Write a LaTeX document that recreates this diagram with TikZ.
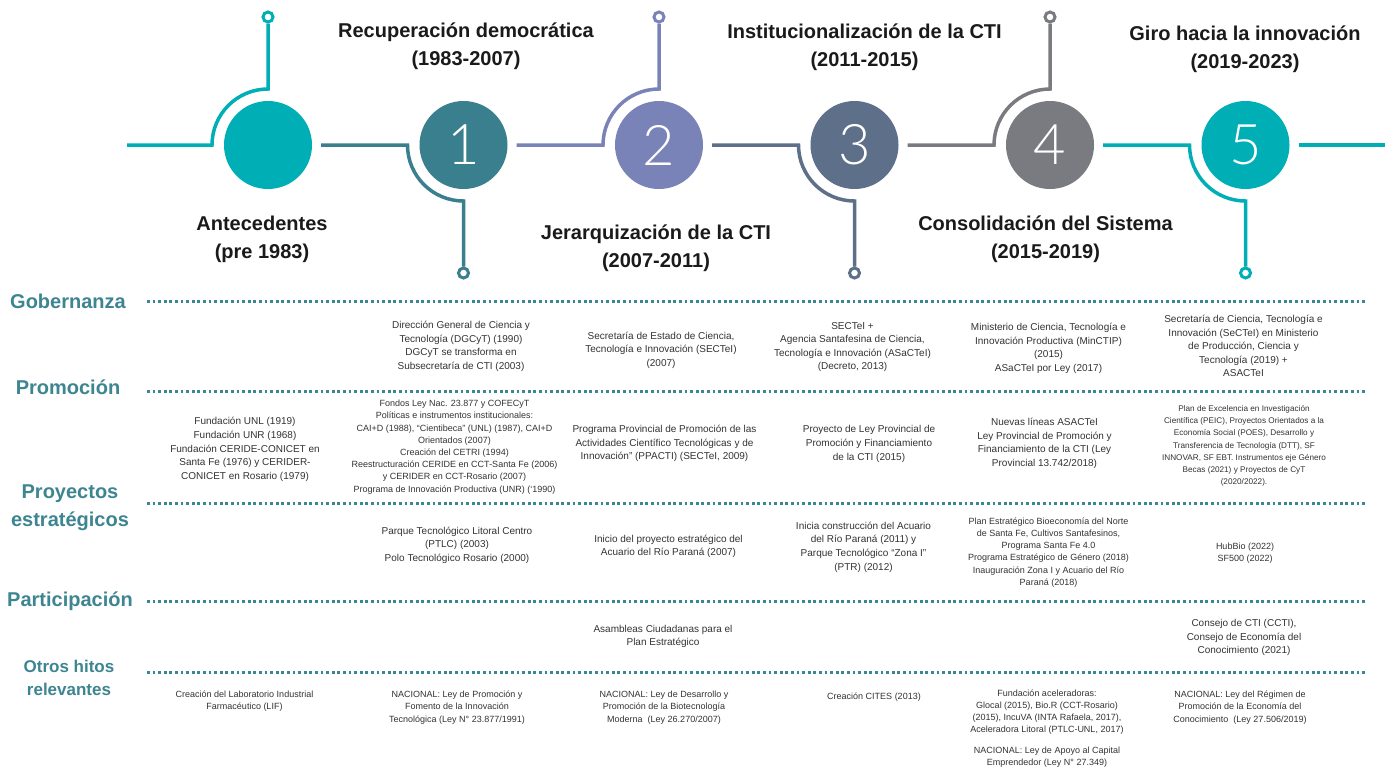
\documentclass[tikz,border=0pt]{standalone}
\usepackage{fontspec}
\setmainfont{Liberation Sans}
\newfontfamily\numfont{Lato Light}
\definecolor{cA}{HTML}{00AEB6}
\definecolor{cB}{HTML}{3A7F8D}
\definecolor{cC}{HTML}{7A83B7}
\definecolor{cD}{HTML}{5D6F89}
\definecolor{cE}{HTML}{797B80}
\definecolor{labcol}{HTML}{3D8591}
\definecolor{dotcol}{HTML}{3A8794}
\definecolor{bodycol}{HTML}{333333}
\definecolor{titcol}{HTML}{1A1A1A}
\tikzset{
  stage/.style={circle, minimum size=88pt, inner sep=0pt, text=white,
    font=\numfont\fontsize{56}{56}\selectfont},
  conn/.style={line width=3.5pt},
  ring/.style={circle, minimum size=10pt, inner sep=0pt, line width=3pt, fill=white},
  titl/.style={align=center, text=titcol, inner sep=0pt, font=\bfseries\fontsize{20}{28}\selectfont},
  catl/.style={align=center, text=labcol, inner sep=0pt, font=\bfseries\fontsize{20}{28}\selectfont},
  catls/.style={align=center, text=labcol, inner sep=0pt, font=\bfseries\fontsize{17}{23}\selectfont},
  dotl/.style={draw=dotcol, line width=3pt, dash pattern=on 2.8pt off 2.8pt},
  txt/.style={align=center, text=bodycol, inner sep=0pt, font=\fontsize{10}{13.6}\selectfont},
  txts/.style={align=center, text=bodycol, inner sep=0pt, font=\fontsize{9}{12.2}\selectfont},
  txtxs/.style={align=center, text=bodycol, inner sep=0pt, font=\fontsize{8.2}{12.2}\selectfont},
}
\begin{document}
\begin{tikzpicture}[x=1pt,y=1pt]
\useasboundingbox[fill=white] (0,0) rectangle (1391,-769);

% stage circles
\node[stage, fill=cA] (c0) at (268,-145) {};
\node[stage, fill=cB] (c1) at (463.5,-145) {1};
\node[stage, fill=cC] (c2) at (659,-145) {2};
\node[stage, fill=cD] (c3) at (854.5,-145) {3};
\node[stage, fill=cE] (c4) at (1050,-145) {4};
\node[stage, fill=cA] (c5) at (1245.5,-145) {5};

% end rings
\node[ring, draw=cA] (r0) at (268,-17) {};
\node[ring, draw=cB] (r1) at (463.5,-273) {};
\node[ring, draw=cC] (r2) at (659,-17) {};
\node[ring, draw=cD] (r3) at (854.5,-273) {};
\node[ring, draw=cE] (r4) at (1050,-17) {};
\node[ring, draw=cA] (r5) at (1245.5,-273) {};

\coordinate (s0) at (127,-145);
\coordinate (e5) at (1385,-145);

% connectors
\draw[conn, cA] (s0) -- ([xshift=-56pt]c0.center) arc[start angle=180, end angle=90, radius=56pt] -- (r0.south);
\draw[conn, cB] ([xshift=9pt]c0.east) -- ([xshift=-56pt]c1.center) arc[start angle=180, end angle=270, radius=56pt] -- (r1.north);
\draw[conn, cC] ([xshift=9pt]c1.east) -- ([xshift=-56pt]c2.center) arc[start angle=180, end angle=90, radius=56pt] -- (r2.south);
\draw[conn, cD] ([xshift=9pt]c2.east) -- ([xshift=-56pt]c3.center) arc[start angle=180, end angle=270, radius=56pt] -- (r3.north);
\draw[conn, cE] ([xshift=9pt]c3.east) -- ([xshift=-56pt]c4.center) arc[start angle=180, end angle=90, radius=56pt] -- (r4.south);
\draw[conn, cA] ([xshift=9pt]c4.east) -- ([xshift=-56pt]c5.center) arc[start angle=180, end angle=270, radius=56pt] -- (r5.north);
\draw[conn, cA] ([xshift=9pt]c5.east) -- (e5);

% stage titles
\node[titl] (t0) at (262,-239.5) {Antecedentes\\(pre 1983)};
\node[titl] (t1) at (466,-46.5) {Recuperación democrática\\(1983-2007)};
\node[titl] (t2) at (656,-248.5) {Jerarquización de la CTI\\(2007-2011)};
\node[titl] (t3) at (864.5,-47) {Institucionalización de la CTI\\(2011-2015)};
\node[titl] (t4) at (1045.5,-239.5) {Consolidación del Sistema\\(2015-2019)};
\node[titl] (t5) at (1245,-49.5) {Giro hacia la innovación\\(2019-2023)};

% category labels
\node[catl] (l1) at (68,-301) {Gobernanza};
\node[catl] (l2) at (68,-387) {Promoción};
\node[catl] (l3) at (70,-507.5) {Proyectos\\estratégicos};
\node[catl] (l4) at (70,-601) {Participación};
\node[catls] (l5) at (69,-677.5) {Otros hitos\\relevantes};

% dotted separators
\foreach \n/\yy in {1/301, 2/391, 3/503, 4/601, 5/672} {
  \coordinate (da\n) at (147,-\yy);
  \coordinate (db\n) at (1365,-\yy);
  \draw[dotl] (da\n) -- (db\n);
}

% Gobernanza
\node[txt] (g1) at (461,-346.5) {Dirección General de Ciencia y\\Tecnología (DGCyT) (1990)\\DGCyT se transforma en\\Subsecretaría de CTI (2003)};
\node[txt] (g2) at (661,-350) {Secretaría de Estado de Ciencia,\\Tecnología e Innovación (SECTeI)\\(2007)};
\node[txt] (g3) at (852.5,-347) {SECTeI +\\Agencia Santafesina de Ciencia,\\Tecnología e Innovación (ASaCTeI)\\(Decreto, 2013)};
\node[txt] (g4) at (1048.5,-348.5) {Ministerio de Ciencia, Tecnología e\\Innovación Productiva (MinCTIP)\\(2015)\\ASaCTeI por Ley (2017)};
\node[txt] (g5) at (1243.5,-346) {Secretaría de Ciencia, Tecnología e\\Innovación (SeCTeI) en Ministerio\\de Producción, Ciencia y\\Tecnología (2019) +\\ASACTeI};

% Promocion
\node[txt] (p0) at (245,-449.5) {Fundación UNL (1919)\\Fundación UNR (1968)\\Fundación CERIDE-CONICET en\\Santa Fe (1976) y CERIDER-\\CONICET en Rosario (1979)};
\node[txts] (p1) at (454.5,-447) {Fondos Ley Nac. 23.877 y COFECyT\\Políticas e instrumentos institucionales:\\CAI+D (1988), “Cientibeca” (UNL) (1987), CAI+D\\Orientados (2007)\\Creación del CETRI (1994)\\Reestructuración CERIDE en CCT-Santa Fe (2006)\\y CERIDER en CCT-Rosario (2007)\\Programa de Innovación Productiva (UNR) (‘1990)};
\node[txt] (p2) at (664.5,-443.5) {Programa Provincial de Promoción de las\\Actividades Científico Tecnológicas y de\\Innovación” (PPACTI) (SECTeI, 2009)};
\node[txt] (p3) at (869,-444) {Proyecto de Ley Provincial de\\Promoción y Financiamiento\\de la CTI (2015)};
\node[txt] (p4) at (1044.5,-443.5) {Nuevas líneas ASACTeI\\Ley Provincial de Promoción y\\Financiamiento de la CTI (Ley\\Provincial 13.742/2018)};
\node[txtxs] (p5) at (1244,-446) {Plan de Excelencia en Investigación\\Científica (PEIC), Proyectos Orientados a la\\Economía Social (POES), Desarrollo y\\Transferencia de Tecnología (DTT), SF\\INNOVAR, SF EBT. Instrumentos eje Género\\Becas (2021) y Proyectos de CyT\\(2020/2022).};

% Proyectos estrategicos
\node[txt] (q1) at (457,-545) {Parque Tecnológico Litoral Centro\\(PTLC) (2003)\\Polo Tecnológico Rosario (2000)};
\node[txt] (q2) at (668.5,-546.5) {Inicio del proyecto estratégico del\\Acuario del Río Paraná (2007)};
\node[txt] (q3) at (863.5,-547) {Inicia construcción del Acuario\\del Río Paraná (2011) y\\Parque Tecnológico “Zona I”\\(PTR) (2012)};
\node[txts] (q4) at (1048.5,-552.5) {Plan Estratégico Bioeconomía del Norte\\de Santa Fe, Cultivos Santafesinos,\\Programa Santa Fe 4.0\\Programa Estratégico de Género (2018)\\Inauguración Zona I y Acuario del Río\\Paraná (2018)};
\node[txts] (q5) at (1245,-553) {HubBio (2022)\\SF500 (2022)};

% Participacion
\node[txt] (u2) at (663,-636.5) {Asambleas Ciudadanas para el\\Plan Estratégico};
\node[txt] (u5) at (1244,-637.5) {Consejo de CTI (CCTI),\\Consejo de Economía del\\Conocimiento (2021)};

% Otros hitos
\node[txts] (o0) at (244.5,-701) {Creación del Laboratorio Industrial\\Farmacéutico (LIF)};
\node[txts] (o1) at (457,-707.5) {NACIONAL: Ley de Promoción y\\Fomento de la Innovación\\Tecnológica (Ley N° 23.877/1991)};
\node[txts] (o2) at (664,-707.5) {NACIONAL: Ley de Desarrollo y\\Promoción de la Biotecnología\\Moderna\ \ (Ley 26.270/2007)};
\node[txts] (o3) at (874,-697.5) {Creación CITES (2013)};
\node[txts] (o4a) at (1047,-712) {Fundación aceleradoras:\\Glocal (2015), Bio.R (CCT-Rosario)\\(2015), IncuVA (INTA Rafaela, 2017),\\Aceleradora Litoral (PTLC-UNL, 2017)};
\node[txts] (o4b) at (1047,-757.5) {NACIONAL: Ley de Apoyo al Capital\\Emprendedor (Ley N° 27.349)};
\node[txts] (o5) at (1240,-707.5) {NACIONAL: Ley del Régimen de\\Promoción de la Economía del\\Conocimiento\ \ (Ley 27.506/2019)};
\end{tikzpicture}
\end{document}
